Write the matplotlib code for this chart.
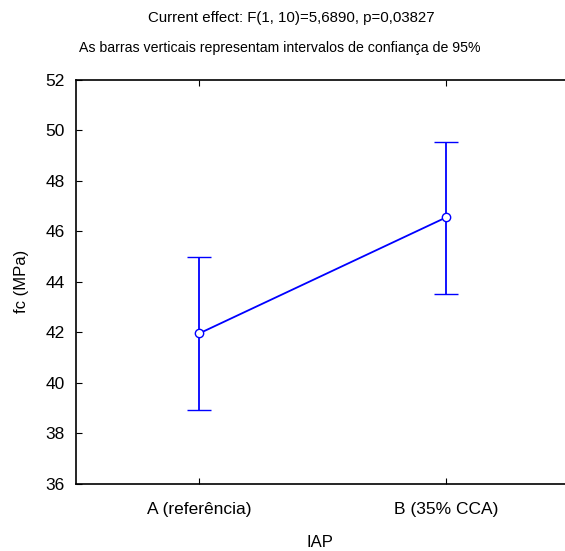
import matplotlib
matplotlib.use("Agg")
import matplotlib.pyplot as plt

plt.rcParams['font.family'] = ['Liberation Sans', 'DejaVu Sans']

groups = ['A (referência)', 'B (35% CCA)']
means = [41.95, 46.55]
ci_low = [38.92, 43.51]
ci_high = [44.98, 49.56]
yticks = [36, 38, 40, 42, 44, 46, 48, 50, 52]

fig = plt.figure(figsize=(5.65, 5.51), dpi=100)
ax = fig.add_axes([0.134, 0.1225, 0.866, 0.7323])

xs = list(range(len(groups)))
err = [[m - lo for m, lo in zip(means, ci_low)],
       [hi - m for m, hi in zip(means, ci_high)]]
ax.errorbar(xs, means, yerr=err, color='#0000ff', lw=1.3, capsize=8.6,
            capthick=1.3, marker='o', ms=6, mfc='white', mec='#0000ff',
            mew=1.0, zorder=3)

ax.set_xlim(-0.5, 1.482)
ax.set_ylim(36, 52)
ax.set_yticks(yticks)
ax.set_xticks(xs)
ax.set_xticklabels(groups)
ax.spines['right'].set_visible(False)
for s in ['left', 'top', 'bottom']:
    ax.spines[s].set_linewidth(1.2)
ax.tick_params(axis='x', direction='in', length=4, top=True, labelsize=12.5, pad=13)
ax.tick_params(axis='y', direction='in', length=4, labelsize=12.5, pad=8)

ax.set_ylabel('fc (MPa)', fontsize=12, labelpad=12)
ax.set_xlabel('IAP', fontsize=12, labelpad=13)

fig.text(0.515, 0.967, 'Current effect: F(1, 10)=5,6890, p=0,03827', ha='center', va='center', fontsize=10.8)
fig.text(0.496, 0.912, 'As barras verticais representam intervalos de confiança de 95%', ha='center', va='center', fontsize=10.2)

fig.savefig('out.png', dpi=100)
